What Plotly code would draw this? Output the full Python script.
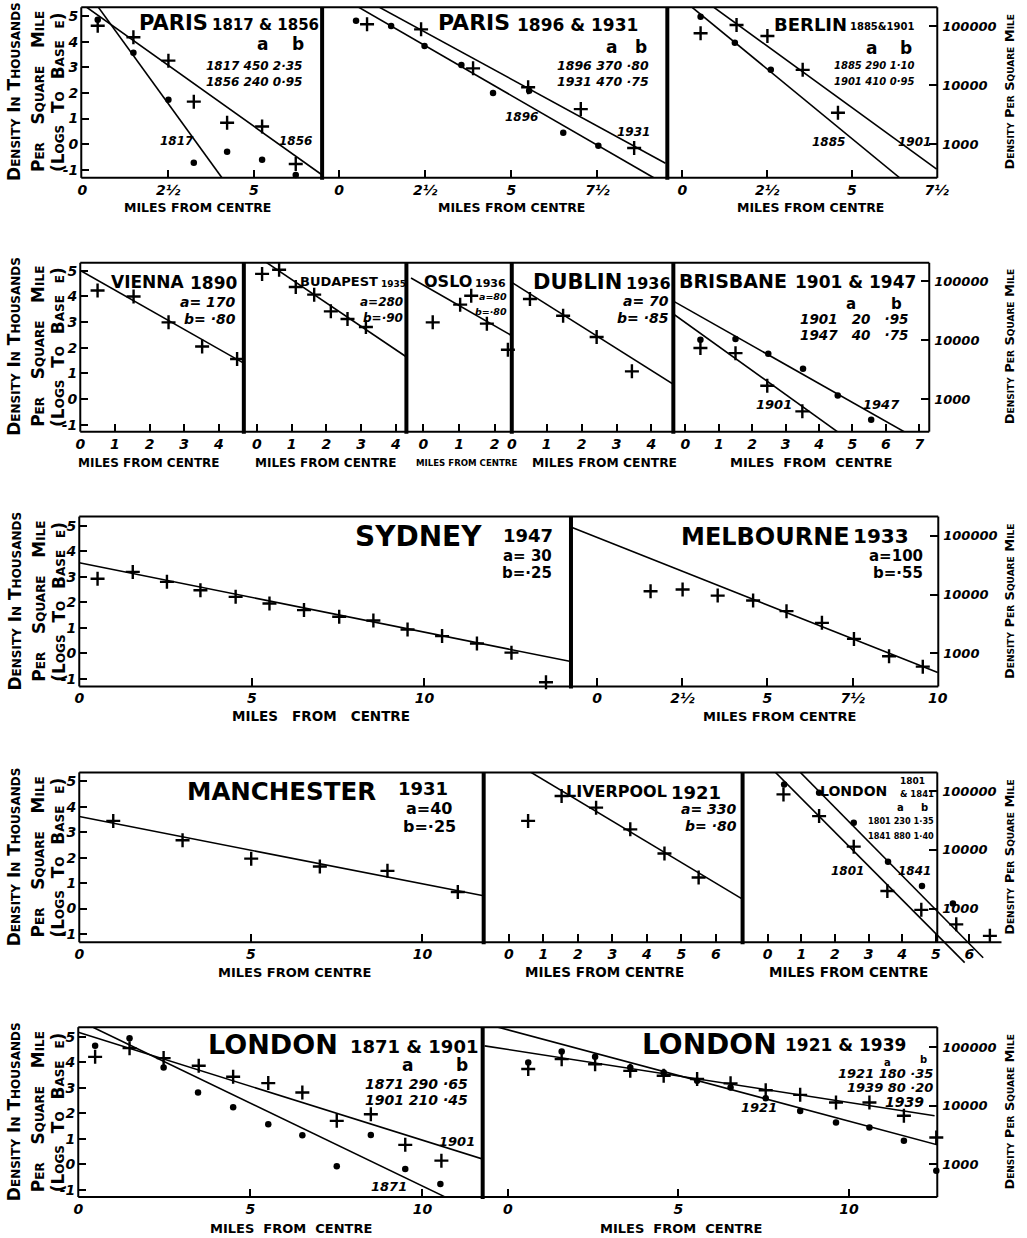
import math
import plotly.graph_objects as go

W, H = 1027, 1238
F = "DejaVu Sans"
SX, CX = 0.98, 7.0         # horizontal calibration of the photographed page

# ---------------- DATA ----------------
# x = miles from centre, y = natural log of density (thousands per square mile)
# Row 1
PARIS_1817_X = [0.45, 1.49, 2.51, 3.25, 4.22, 5.24, 6.22]
PARIS_1817_Y = [4.85, 3.57, 1.73, -0.72, -0.29, -0.61, -1.20]
PARIS_1856_X = [0.45, 1.49, 2.51, 3.25, 4.22, 5.24, 6.22]
PARIS_1856_Y = [4.62, 4.17, 3.26, 1.66, 0.84, 0.69, -0.77]
PARIS_1817_FIT_X = [0.47, 4.07]
PARIS_1817_FIT_Y = [5.34, -1.31]
PARIS_1856_FIT_X = [0.13, 6.98]
PARIS_1856_FIT_Y = [5.34, -1.19]

PARIS_1896_X = [0.49, 1.51, 2.48, 3.55, 4.47, 5.52, 6.51, 7.53]
PARIS_1896_Y = [4.82, 4.61, 3.83, 3.09, 2.00, 2.09, 0.45, -0.06]
PARIS_1931_X = [0.81, 2.38, 3.89, 5.49, 7.02, 8.57]
PARIS_1931_Y = [4.68, 4.48, 2.96, 2.22, 1.37, -0.15]
PARIS_1896_FIT_X = [0.57, 9.14]
PARIS_1896_FIT_Y = [5.34, -1.31]
PARIS_1931_FIT_X = [1.17, 9.48]
PARIS_1931_FIT_Y = [5.34, -0.74]

BERLIN_1885_X = [0.54, 1.55, 2.61]
BERLIN_1885_Y = [4.97, 3.96, 2.90]
BERLIN_1901_X = [0.54, 1.60, 2.51, 3.55, 4.59]
BERLIN_1901_Y = [4.33, 4.65, 4.22, 2.90, 1.23]
BERLIN_1885_FIT_X = [0.29, 6.41]
BERLIN_1885_FIT_Y = [5.34, -1.31]
BERLIN_1901_FIT_X = [0.93, 7.50]
BERLIN_1901_FIT_Y = [5.34, -0.97]

# Row 2
VIENNA_X = [0.50, 1.54, 2.55, 3.52, 4.53]
VIENNA_Y = [4.23, 4.00, 2.99, 2.05, 1.56]
VIENNA_FIT_X = [0.0, 4.72]
VIENNA_FIT_Y = [5.01, 1.40]

BUDAPEST_X = [0.15, 0.64, 1.12, 1.65, 2.13, 2.61, 3.14]
BUDAPEST_Y = [4.88, 5.04, 4.37, 4.07, 3.42, 3.12, 2.81]
BUDAPEST_FIT_X = [0.28, 4.31]
BUDAPEST_FIT_Y = [5.32, 1.64]

OSLO_X = [0.26, 1.03, 1.34, 1.78, 2.37]
OSLO_Y = [2.99, 3.68, 4.03, 2.94, 1.92]
OSLO_FIT_X = [-0.35, 2.48]
OSLO_FIT_Y = [4.72, 2.47]

DUBLIN_X = [0.52, 1.47, 2.43, 3.44]
DUBLIN_Y = [3.90, 3.25, 2.42, 1.08]
DUBLIN_FIT_X = [0.0, 4.64]
DUBLIN_FIT_Y = [4.55, 0.56]

BRISBANE_1947_X = [0.45, 1.50, 2.48, 3.52, 4.56, 5.56, 6.59]
BRISBANE_1947_Y = [2.31, 2.34, 1.77, 1.18, 0.14, -0.81, -1.46]
BRISBANE_1901_X = [0.45, 1.50, 2.45, 3.50, 4.56]
BRISBANE_1901_Y = [1.99, 1.79, 0.52, -0.48, -1.46]
BRISBANE_1947_FIT_X = [-0.36, 6.96]
BRISBANE_1947_FIT_Y = [3.82, -1.58]
BRISBANE_1901_FIT_X = [-0.36, 4.95]
BRISBANE_1901_FIT_Y = [3.32, -1.65]

# Row 3
SYDNEY_X = [0.53, 1.55, 2.54, 3.51, 4.53, 5.51, 6.51, 7.53, 8.52, 9.51, 10.51, 11.52, 12.52, 13.52]
SYDNEY_Y = [2.92, 3.19, 2.80, 2.47, 2.21, 1.95, 1.69, 1.43, 1.28, 0.93, 0.67, 0.38, 0.02, -1.14]
SYDNEY_FIT_X = [0.0, 14.24]
SYDNEY_FIT_Y = [3.55, -0.33]

MELBOURNE_X = [1.57, 2.51, 3.54, 4.58, 5.56, 6.60, 7.54, 8.57, 9.56]
MELBOURNE_Y = [2.43, 2.50, 2.26, 2.07, 1.65, 1.19, 0.56, -0.12, -0.53]
MELBOURNE_FIT_X = [-0.77, 10.0]
MELBOURNE_FIT_Y = [4.95, -0.76]

# Row 4
MANCHESTER_X = [0.99, 3.01, 5.01, 7.01, 8.98, 11.03]
MANCHESTER_Y = [3.44, 2.68, 1.96, 1.65, 1.48, 0.65]
MANCHESTER_FIT_X = [0.0, 11.78]
MANCHESTER_FIT_Y = [3.61, 0.50]

LIVERPOOL_X = [0.56, 1.53, 2.53, 3.52, 4.51, 5.50]
LIVERPOOL_Y = [3.44, 4.42, 3.96, 3.11, 2.16, 1.22]
LIVERPOOL_FIT_X = [0.59, 6.77]
LIVERPOOL_FIT_Y = [5.39, 0.37]

LONDON_1841_X = [0.49, 1.53, 2.56, 3.58, 4.59, 5.51]
LONDON_1841_Y = [4.87, 4.55, 3.37, 1.84, 0.89, 0.20]
LONDON_1801_X = [0.47, 1.53, 2.56, 3.56, 4.57, 5.61, 6.61]
LONDON_1801_Y = [4.48, 3.63, 2.43, 0.69, -0.05, -0.62, -1.07]
LONDON_1801_FIT_X = [0.19, 5.86]
LONDON_1801_FIT_Y = [5.40, -2.12]
LONDON_1841_FIT_X = [0.93, 6.41]
LONDON_1841_FIT_Y = [5.40, -1.93]

# Row 5
LONDON_1871_X = [0.49, 1.49, 2.48, 3.48, 4.50, 5.52, 6.51, 7.51, 8.50, 9.50, 10.52]
LONDON_1871_Y = [4.65, 4.95, 3.80, 2.82, 2.24, 1.58, 1.15, -0.07, 1.16, -0.18, -0.77]
LONDON_1901_X = [0.49, 1.49, 2.48, 3.50, 4.50, 5.52, 6.51, 7.51, 8.50, 9.50, 10.55]
LONDON_1901_Y = [4.22, 4.56, 4.17, 3.87, 3.44, 3.19, 2.82, 1.71, 1.97, 0.77, 0.15]
LONDON_1871_FIT_X = [0.44, 10.64]
LONDON_1871_FIT_Y = [5.37, -1.26]
LONDON_1901_FIT_X = [0.0, 11.76]
LONDON_1901_FIT_Y = [5.18, 0.21]

LONDON_1921_X = [0.60, 1.58, 2.56, 3.59, 4.57, 5.55, 6.53, 7.56, 8.57, 9.62, 10.60, 11.61, 12.56]
LONDON_1921_Y = [4.00, 4.43, 4.22, 3.80, 3.61, 3.28, 3.02, 2.60, 2.10, 1.65, 1.45, 0.93, -0.25]
LONDON_1939_X = [0.60, 1.58, 2.56, 3.59, 4.57, 5.55, 6.53, 7.56, 8.57, 9.62, 10.60, 11.61, 12.56]
LONDON_1939_Y = [3.74, 4.13, 3.93, 3.67, 3.48, 3.35, 3.18, 2.91, 2.73, 2.43, 2.43, 1.91, 1.06]
LONDON_1921_FIT_X = [-0.70, 12.70]
LONDON_1921_FIT_Y = [5.53, 0.73]
LONDON_1939_FIT_X = [-0.68, 12.51]
LONDON_1939_FIT_Y = [4.65, 1.91]

# Tick labels
LEFT_TICKS = [-1, 0, 1, 2, 3, 4, 5]
LEFT_TICK_TEXT = ["-1", "0", "1", "2", "3", "4", "5"]
RIGHT_TICKS = [0.0, math.log(10), math.log(100)]
RIGHT_TICK_TEXT = ["1000", "10000", "100000"]
HALF_TICKS = [0, 2.5, 5, 7.5, 10]
HALF_TEXT = ["0", "2½", "5", "7½", "10"]
INT_TICKS = [0, 1, 2, 3, 4, 5, 6, 7]
INT_TEXT = ["0", "1", "2", "3", "4", "5", "6", "7"]
FIVE_TICKS = [0, 5, 10]
FIVE_TEXT = ["0", "5", "10"]


# ---------------- LAYOUT GEOMETRY (picture pixels) ----------------
def X(px):
    return (px - CX) / SX / W


def Y(py):
    return 1 - py / H


def clamp(v):
    return min(1.0, max(0.0, v))


# row: (top px, bottom px, px of value 4, px per log unit)
ROWS = {1: (7.3, 178.0, 41.7, 25.66), 2: (263.0, 432.0, 296.7, 25.66),
        3: (517.0, 687.0, 551.7, 25.5), 4: (773.0, 943.0, 807.3, 25.5),
        5: (1028.0, 1198.0, 1063.3, 25.53)}


def val(row, py):
    top, bot, ref, k = ROWS[row]
    return 4 - (py - ref) / k


# name, row, left px, right px, px of x=0, px per mile, ticks, ticktext, show left axis
PANELS = [
    ("paris1", 1, 83, 323, 84, 34.2, HALF_TICKS[:3], HALF_TEXT[:3], True),
    ("paris2", 1, 323, 667, 340, 34.3, HALF_TICKS[:4], HALF_TEXT[:4], False),
    ("berlin", 1, 667, 936, 681.9, 33.8, HALF_TICKS[:4], HALF_TEXT[:4], False),
    ("vienna", 2, 82, 245, 82, 34.5, INT_TICKS[:5], INT_TEXT[:5], True),
    ("budapest", 2, 245, 407, 258, 34.6, INT_TICKS[:5], INT_TEXT[:5], False),
    ("oslo", 2, 407, 512, 424, 35.5, INT_TICKS[:3], INT_TEXT[:3], False),
    ("dublin", 2, 512, 673, 512, 34.8, INT_TICKS[:5], INT_TEXT[:5], False),
    ("brisbane", 2, 673, 928, 685, 33.3, INT_TICKS, INT_TEXT, False),
    ("sydney", 3, 81, 571, 81, 34.4, FIVE_TICKS, FIVE_TEXT, True),
    ("melbourne", 3, 571, 937, 597, 33.95, HALF_TICKS, HALF_TEXT, False),
    ("manchester", 4, 81, 484, 81, 34.2, FIVE_TICKS, FIVE_TEXT, True),
    ("liverpool", 4, 484, 742, 509, 34.4, INT_TICKS[:7], INT_TEXT[:7], False),
    ("london1", 4, 742, 936, 767, 33.5, [], [], False),
    ("london2", 5, 80, 483, 80, 34.3, FIVE_TICKS, FIVE_TEXT, True),
    ("london3", 5, 483, 936, 508, 34.0, FIVE_TICKS, FIVE_TEXT, False),
]
IDX = {p[0]: i + 1 for i, p in enumerate(PANELS)}
ROW_RIGHT = {1: ("berlin", 936), 2: ("brisbane", 928), 3: ("melbourne", 937),
             4: ("london1", 936), 5: ("london3", 936)}

TICKFONT = dict(family=F, size=14, color="black", weight="bold", style="italic")

layout = {}


def aid(prefix, i):
    return prefix if i == 1 else f"{prefix}{i}"


for i, (name, row, x0, x1, z, s, tv, tt, left) in enumerate(PANELS, start=1):
    top, bot, ref, k = ROWS[row]
    layout[aid("xaxis", i)] = dict(
        domain=[clamp(X(x0)), clamp(X(x1))], range=[(x0 - z) / s, (x1 - z) / s],
        anchor=aid("y", i), tickmode="array", tickvals=tv, ticktext=tt,
        ticks="inside" if tv else "", ticklen=8, tickwidth=2, tickcolor="black",
        showticklabels=bool(tv), tickfont=TICKFONT, ticklabelstandoff=2,
        showgrid=False, zeroline=False, showline=False, fixedrange=True)
    layout[aid("yaxis", i)] = dict(
        domain=[clamp(Y(bot)), clamp(Y(top))], range=[val(row, bot), val(row, top)],
        anchor=aid("x", i), tickmode="array", tickvals=LEFT_TICKS, ticktext=LEFT_TICK_TEXT,
        ticks="inside" if left else "", ticklen=8, tickwidth=2, tickcolor="black",
        showticklabels=left, tickfont=TICKFONT, ticklabelstandoff=2,
        showgrid=False, zeroline=False, showline=False, fixedrange=True)

NP = len(PANELS)
# right-hand density axes
for r in range(1, 6):
    pname, rpx = ROW_RIGHT[r]
    top, bot, ref, k = ROWS[r]
    layout[f"yaxis{NP + r}"] = dict(
        overlaying=aid("y", IDX[pname]), side="right", anchor="free", position=clamp(X(rpx)),
        range=[val(r, bot), val(r, top)], tickmode="array", tickvals=RIGHT_TICKS,
        ticktext=RIGHT_TICK_TEXT, ticks="inside", ticklen=8, tickwidth=2, tickcolor="black",
        tickfont=dict(family=F, size=13, color="black", weight="bold", style="italic"),
        ticklabelstandoff=4, showgrid=False, zeroline=False, showline=False, fixedrange=True)

# extended axes for London 1801 & 1841 (lines and points run past the frame)
LX, LY = NP + 1, NP + 6
li = IDX["london1"]
layout[f"xaxis{LX}"] = dict(
    domain=[clamp(X(742)), clamp(X(1000))], range=[(742 - 767) / 33.5, (1000 - 767) / 33.5],
    anchor=aid("y", li), tickmode="array", tickvals=INT_TICKS[:7], ticktext=INT_TEXT[:7],
    ticks="inside", ticklen=8, tickwidth=2, tickcolor="black", tickfont=TICKFONT,
    ticklabelstandoff=2, showgrid=False, zeroline=False, showline=False, fixedrange=True)
layout[f"yaxis{LY}"] = dict(
    domain=[clamp(Y(972)), clamp(Y(773))], range=[val(4, 972), val(4, 773)], anchor=f"x{LX}",
    showticklabels=False, ticks="", showgrid=False, zeroline=False, showline=False,
    fixedrange=True)

# ---------------- TRACES ----------------
traces = []


def axes_of(name):
    if name == "london1":
        return f"x{LX}", f"y{LY}"
    i = IDX[name]
    return aid("x", i), aid("y", i)


def pts(name, xs, ys, kind):
    xa, ya = axes_of(name)
    if kind == "cross":
        mk = dict(symbol="cross-thin", size=10, line=dict(width=2.4, color="black"), color="black")
    else:
        mk = dict(symbol="circle", size=6.5, color="black", line=dict(width=0))
    traces.append(go.Scatter(x=xs, y=ys, xaxis=xa, yaxis=ya, mode="markers", marker=mk,
                             cliponaxis=False, hoverinfo="skip", showlegend=False))


def fit(name, xs, ys):
    xa, ya = axes_of(name)
    traces.append(go.Scatter(x=xs, y=ys, xaxis=xa, yaxis=ya, mode="lines",
                             line=dict(color="black", width=1.6), hoverinfo="skip",
                             showlegend=False))


fit("paris1", PARIS_1817_FIT_X, PARIS_1817_FIT_Y)
fit("paris1", PARIS_1856_FIT_X, PARIS_1856_FIT_Y)
pts("paris1", PARIS_1817_X, PARIS_1817_Y, "dot")
pts("paris1", PARIS_1856_X, PARIS_1856_Y, "cross")
fit("paris2", PARIS_1896_FIT_X, PARIS_1896_FIT_Y)
fit("paris2", PARIS_1931_FIT_X, PARIS_1931_FIT_Y)
pts("paris2", PARIS_1896_X, PARIS_1896_Y, "dot")
pts("paris2", PARIS_1931_X, PARIS_1931_Y, "cross")
fit("berlin", BERLIN_1885_FIT_X, BERLIN_1885_FIT_Y)
fit("berlin", BERLIN_1901_FIT_X, BERLIN_1901_FIT_Y)
pts("berlin", BERLIN_1885_X, BERLIN_1885_Y, "dot")
pts("berlin", BERLIN_1901_X, BERLIN_1901_Y, "cross")

fit("vienna", VIENNA_FIT_X, VIENNA_FIT_Y)
pts("vienna", VIENNA_X, VIENNA_Y, "cross")
fit("budapest", BUDAPEST_FIT_X, BUDAPEST_FIT_Y)
pts("budapest", BUDAPEST_X, BUDAPEST_Y, "cross")
fit("oslo", OSLO_FIT_X, OSLO_FIT_Y)
pts("oslo", OSLO_X, OSLO_Y, "cross")
fit("dublin", DUBLIN_FIT_X, DUBLIN_FIT_Y)
pts("dublin", DUBLIN_X, DUBLIN_Y, "cross")
fit("brisbane", BRISBANE_1947_FIT_X, BRISBANE_1947_FIT_Y)
fit("brisbane", BRISBANE_1901_FIT_X, BRISBANE_1901_FIT_Y)
pts("brisbane", BRISBANE_1947_X, BRISBANE_1947_Y, "dot")
pts("brisbane", BRISBANE_1901_X, BRISBANE_1901_Y, "cross")

fit("sydney", SYDNEY_FIT_X, SYDNEY_FIT_Y)
pts("sydney", SYDNEY_X, SYDNEY_Y, "cross")
fit("melbourne", MELBOURNE_FIT_X, MELBOURNE_FIT_Y)
pts("melbourne", MELBOURNE_X, MELBOURNE_Y, "cross")

fit("manchester", MANCHESTER_FIT_X, MANCHESTER_FIT_Y)
pts("manchester", MANCHESTER_X, MANCHESTER_Y, "cross")
fit("liverpool", LIVERPOOL_FIT_X, LIVERPOOL_FIT_Y)
pts("liverpool", LIVERPOOL_X, LIVERPOOL_Y, "cross")
fit("london1", LONDON_1801_FIT_X, LONDON_1801_FIT_Y)
fit("london1", LONDON_1841_FIT_X, LONDON_1841_FIT_Y)
pts("london1", LONDON_1841_X, LONDON_1841_Y, "dot")
pts("london1", LONDON_1801_X, LONDON_1801_Y, "cross")

fit("london2", LONDON_1871_FIT_X, LONDON_1871_FIT_Y)
fit("london2", LONDON_1901_FIT_X, LONDON_1901_FIT_Y)
pts("london2", LONDON_1871_X, LONDON_1871_Y, "dot")
pts("london2", LONDON_1901_X, LONDON_1901_Y, "cross")
fit("london3", LONDON_1921_FIT_X, LONDON_1921_FIT_Y)
fit("london3", LONDON_1939_FIT_X, LONDON_1939_FIT_Y)
pts("london3", LONDON_1921_X, LONDON_1921_Y, "dot")
pts("london3", LONDON_1939_X, LONDON_1939_Y, "cross")

# placeholders so every axis has a subplot
for r in range(1, 6):
    pname, _ = ROW_RIGHT[r]
    traces.append(go.Scatter(x=[None], y=[None], xaxis=aid("x", IDX[pname]), yaxis=f"y{NP + r}",
                             mode="markers", hoverinfo="skip", showlegend=False))
traces.append(go.Scatter(x=[None], y=[None], xaxis=aid("x", li), yaxis=aid("y", li),
                         mode="markers", hoverinfo="skip", showlegend=False))

# ---------------- TEXT ----------------
ann = []


def T(x, y, text, size, anchor="center", italic=False, bold=True, angle=0, variant="normal"):
    ann.append(dict(x=X(x), y=Y(y), xref="paper", yref="paper", text=text, showarrow=False,
                    xanchor=anchor, yanchor="middle", textangle=angle, borderpad=0,
                    font=dict(family=F, size=size, color="black",
                              weight="bold" if bold else "normal",
                              style="italic" if italic else "normal", variant=variant)))


NB = "\u00a0"
ROW_MID = {1: 92, 2: 347, 3: 602, 4: 858, 5: 1113}
for r, c in ROW_MID.items():
    T(16, c, "Density In Thousands", 17, angle=-90, variant="small-caps")
    T(40, c, f"Per{NB*3}Square{NB*3}Mile", 17, angle=-90, variant="small-caps")
    T(60, c, f"(Logs{NB*2}To{NB*2}Base{NB*2}ε)", 17, angle=-90, variant="small-caps")
    T(1008, c, "Density Per Square Mile", 13, angle=-90, variant="small-caps")

MFC = "MILES FROM CENTRE"
MFC2 = f"MILES{NB*2}FROM{NB*2}CENTRE"
# x-axis titles
T(199, 208, MFC, 12.5); T(512, 208, MFC, 12.5); T(810, 208, MFC, 12.5)
T(150, 463, MFC, 12); T(327, 463, MFC, 12); T(467, 463, MFC, 8.6)
T(604, 463, MFC, 12.3); T(810, 463, MFC2, 13)
T(322, 717, f"MILES{NB*3}FROM{NB*3}CENTRE", 13.5); T(779, 717, MFC, 13)
T(295, 973, MFC, 13); T(604, 973, MFC, 13.5); T(848, 973, MFC, 13.5)
T(292, 1229, MFC2, 13); T(681, 1229, MFC2, 13)

# Row 1 titles
T(210, 23, "PARIS", 21, "right"); T(212, 25, "1817 & 1856", 15, "left")
T(264, 44, "a", 17); T(299, 44, "b", 17)
T(255, 66, "1817 450 2·35", 12, italic=True); T(255, 82, "1856 240 0·95", 12, italic=True)
T(178, 141, "1817", 12, italic=True); T(296, 141, "1856", 12, italic=True)

T(511, 23, "PARIS", 22, "right"); T(516, 25, "1896 & 1931", 17, "left")
T(611, 47, "a", 17); T(641, 47, "b", 17)
T(603, 66, "1896 370 ·80", 12.5, italic=True); T(603, 82, "1931 470 ·75", 12.5, italic=True)
T(522, 117, "1896", 12, italic=True); T(633, 132, "1931", 12, italic=True)

T(847, 25, "BERLIN", 18, "right"); T(848, 27, "1885&1901", 10, "left")
T(870, 48, "a", 17); T(905, 48, "b", 17)
T(873, 66, "1885 290 1·10", 10, italic=True); T(873, 82, "1901 410 0·95", 10, italic=True)
T(828, 142, "1885", 12, italic=True); T(913, 142, "1901", 12, italic=True)

# Row 2 titles
T(187, 282, "VIENNA", 17, "right"); T(190, 283, "1890", 17, "left")
T(238, 302, "a= 170", 14, "right", italic=True); T(238, 319, "b= ·80", 14, "right", italic=True)
T(380, 282, "BUDAPEST", 13, "right"); T(381, 284, "1935", 9, "left")
T(405, 302, "a=280", 12, "right", italic=True); T(405, 318, "b=·90", 12, "right", italic=True)
T(473, 282, "OSLO", 16, "right"); T(474, 284, "1936", 11, "left")
T(508, 297, "a=80", 9.5, "right", italic=True); T(508, 312, "b=·80", 9.5, "right", italic=True)
T(623, 282, "DUBLIN", 21, "right"); T(625, 284, "1936", 16, "left")
T(670, 301, "a= 70", 14, "right", italic=True); T(670, 318, "b= ·85", 14, "right", italic=True)
T(787, 281, "BRISBANE", 19, "right"); T(793, 282, "1901 & 1947", 17, "left")
T(850, 304, "a", 15); T(895, 304, "b", 15)
T(853, 319, f"1901{NB*3}20{NB*3}·95", 13.5, italic=True)
T(853, 335, f"1947{NB*3}40{NB*3}·75", 13.5, italic=True)
T(773, 405, "1901", 13, italic=True); T(880, 405, "1947", 13, italic=True)

# Row 3 titles
T(483, 537, "SYDNEY", 28, "right"); T(502, 536, "1947", 18, "left")
T(553, 556, "a= 30", 15, "right"); T(553, 573, "b=·25", 15, "right")
T(850, 537, "MELBOURNE", 24, "right"); T(851, 536, "1933", 20, "left")
T(923, 556, "a=100", 15, "right"); T(923, 573, "b=·55", 15, "right")

# Row 4 titles
T(378, 792, "MANCHESTER", 24.5, "right"); T(398, 789, "1931", 18, "left")
T(453, 809, "a=40", 16, "right"); T(457, 827, "b=·25", 16, "right")
T(668, 792, "LIVERPOOL", 16, "right"); T(670, 793, "1921", 18, "left")
T(737, 810, "a= 330", 14, "right", italic=True); T(737, 827, "b= ·80", 14, "right", italic=True)
T(887, 792, "LONDON", 14, "right"); T(911, 782, "1801", 9); T(916, 795, "& 1841", 8.5)
T(899, 808, "a", 10); T(923, 808, "b", 10)
T(900, 822, "1801 230 1·35", 8.2); T(900, 837, "1841 880 1·40", 8.2)
T(847, 872, "1801", 12, italic=True); T(913, 872, "1841", 12, italic=True)

# Row 5 titles
T(340, 1045, "LONDON", 27, "right"); T(350, 1047, "1871 & 1901", 18, "left")
T(408, 1066, "a", 17); T(462, 1066, "b", 17)
T(417, 1085, "1871 290 ·65", 14, italic=True); T(417, 1101, "1901 210 ·45", 14, italic=True)
T(457, 1142, "1901", 13, italic=True); T(390, 1187, "1871", 13, italic=True)
T(777, 1045, "LONDON", 28, "right"); T(783, 1046, "1921 & 1939", 17, "left")
T(886, 1063, "a", 10); T(922, 1060, "b", 10)
T(933, 1074, "1921 180 ·35", 13, "right", italic=True)
T(933, 1088, "1939 80 ·20", 13, "right", italic=True)
T(903, 1103, "1939", 14, italic=True); T(758, 1108, "1921", 13, italic=True)

# ---------------- FRAMES ----------------
shapes = []


def line(x0, y0, x1, y1, w):
    shapes.append(dict(type="line", xref="paper", yref="paper", x0=X(x0), y0=Y(y0),
                       x1=X(x1), y1=Y(y1), line=dict(color="black", width=w)))


FRAMES = {1: (83, 936), 2: (82, 928), 3: (81, 937), 4: (81, 936), 5: (80, 936)}
DIVIDERS = {1: [323, 667], 2: [245, 407, 512, 673], 3: [571], 4: [484, 742], 5: [483]}
for r, (l, rr) in FRAMES.items():
    top, bot, _, _ = ROWS[r]
    line(l, top, rr, top, 2)
    line(l, bot, rr if r != 4 else 1000, bot, 2)
    line(l, top, l, bot, 2)
    line(rr, top, rr, bot, 2)
    for d in DIVIDERS[r]:
        line(d, top, d, bot + 2, 4)

fig = go.Figure(data=traces)
fig.update_layout(width=W, height=H, margin=dict(l=0, r=0, t=0, b=0), autosize=False,
                  paper_bgcolor="white", plot_bgcolor="rgba(0,0,0,0)", showlegend=False,
                  hovermode=False, font=dict(family=F, color="black"),
                  annotations=ann, shapes=shapes, **layout)
fig.write_html("out.html", include_plotlyjs=True, full_html=True,
               config={"displayModeBar": False, "staticPlot": True},
               post_script="document.body.style.margin='0';document.body.style.overflow='hidden';")
